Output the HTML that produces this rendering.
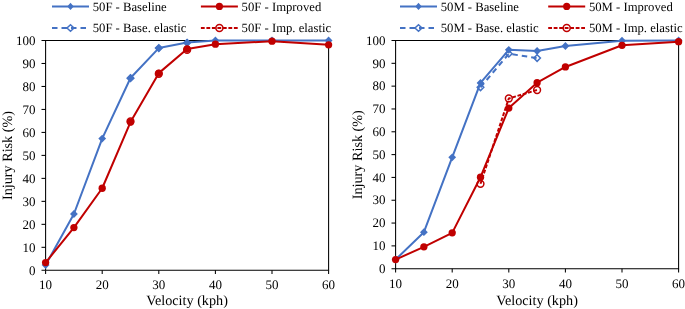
<!DOCTYPE html>
<html><head><meta charset="utf-8"><style>
html,body{margin:0;padding:0;background:#fff;width:685px;height:309px;overflow:hidden;}
svg{display:block;will-change:transform;}
text{font-family:"Liberation Serif",serif;fill:#000;text-rendering:geometricPrecision;}
.tk{font-size:13px;}
.ti{font-size:14.2px;}
.lg{font-size:12.7px;}
</style></head><body>
<svg width="685" height="309" viewBox="0 0 685 309">
<rect width="685" height="309" fill="#fff"/>
<path d="M41.5,40.5H329.1M45.6,40.0V270.8M328.6,40.0V270.8M41.5,270.3H329.1" fill="none" stroke="#000" stroke-width="1.05"/>
<line x1="41.5" y1="247.32" x2="45.6" y2="247.32" stroke="#000" stroke-width="1.05"/>
<line x1="41.5" y1="224.34" x2="45.6" y2="224.34" stroke="#000" stroke-width="1.05"/>
<line x1="41.5" y1="201.36" x2="45.6" y2="201.36" stroke="#000" stroke-width="1.05"/>
<line x1="41.5" y1="178.38" x2="45.6" y2="178.38" stroke="#000" stroke-width="1.05"/>
<line x1="41.5" y1="155.40" x2="45.6" y2="155.40" stroke="#000" stroke-width="1.05"/>
<line x1="41.5" y1="132.42" x2="45.6" y2="132.42" stroke="#000" stroke-width="1.05"/>
<line x1="41.5" y1="109.44" x2="45.6" y2="109.44" stroke="#000" stroke-width="1.05"/>
<line x1="41.5" y1="86.46" x2="45.6" y2="86.46" stroke="#000" stroke-width="1.05"/>
<line x1="41.5" y1="63.48" x2="45.6" y2="63.48" stroke="#000" stroke-width="1.05"/>
<text x="35.4" y="274.50" text-anchor="end" class="tk">0</text>
<text x="35.4" y="251.52" text-anchor="end" class="tk">10</text>
<text x="35.4" y="228.54" text-anchor="end" class="tk">20</text>
<text x="35.4" y="205.56" text-anchor="end" class="tk">30</text>
<text x="35.4" y="182.58" text-anchor="end" class="tk">40</text>
<text x="35.4" y="159.60" text-anchor="end" class="tk">50</text>
<text x="35.4" y="136.62" text-anchor="end" class="tk">60</text>
<text x="35.4" y="113.64" text-anchor="end" class="tk">70</text>
<text x="35.4" y="90.66" text-anchor="end" class="tk">80</text>
<text x="35.4" y="67.68" text-anchor="end" class="tk">90</text>
<text x="35.4" y="44.70" text-anchor="end" class="tk">100</text>
<line x1="45.60" y1="270.3" x2="45.60" y2="274.1" stroke="#000" stroke-width="1.05"/>
<text x="45.60" y="289.40" text-anchor="middle" class="tk">10</text>
<line x1="102.20" y1="270.3" x2="102.20" y2="274.1" stroke="#000" stroke-width="1.05"/>
<text x="102.20" y="289.40" text-anchor="middle" class="tk">20</text>
<line x1="158.80" y1="270.3" x2="158.80" y2="274.1" stroke="#000" stroke-width="1.05"/>
<text x="158.80" y="289.40" text-anchor="middle" class="tk">30</text>
<line x1="215.40" y1="270.3" x2="215.40" y2="274.1" stroke="#000" stroke-width="1.05"/>
<text x="215.40" y="289.40" text-anchor="middle" class="tk">40</text>
<line x1="272.00" y1="270.3" x2="272.00" y2="274.1" stroke="#000" stroke-width="1.05"/>
<text x="272.00" y="289.40" text-anchor="middle" class="tk">50</text>
<line x1="328.60" y1="270.3" x2="328.60" y2="274.1" stroke="#000" stroke-width="1.05"/>
<text x="328.60" y="289.40" text-anchor="middle" class="tk">60</text>
<text x="187.10" y="304.6" text-anchor="middle" class="ti">Velocity (kph)</text>
<text transform="translate(12.00,155.50) rotate(-90)" text-anchor="middle" class="ti">Injury Risk (%)</text>
<polyline points="45.60,265.01 73.90,214.00 102.20,138.62 130.50,77.96 158.80,48.08 187.10,42.57 215.40,40.50 272.00,40.50 328.60,40.50" fill="none" stroke="#4472C4" stroke-width="2" stroke-linejoin="round"/>
<path d="M45.60,261.11L49.50,265.01L45.60,268.91L41.70,265.01Z" fill="#4472C4"/>
<path d="M73.90,210.10L77.80,214.00L73.90,217.90L70.00,214.00Z" fill="#4472C4"/>
<path d="M102.20,134.72L106.10,138.62L102.20,142.52L98.30,138.62Z" fill="#4472C4"/>
<path d="M130.50,74.06L134.40,77.96L130.50,81.86L126.60,77.96Z" fill="#4472C4"/>
<path d="M158.80,44.18L162.70,48.08L158.80,51.98L154.90,48.08Z" fill="#4472C4"/>
<path d="M187.10,38.67L191.00,42.57L187.10,46.47L183.20,42.57Z" fill="#4472C4"/>
<path d="M215.40,36.60L219.30,40.50L215.40,44.40L211.50,40.50Z" fill="#4472C4"/>
<path d="M272.00,36.60L275.90,40.50L272.00,44.40L268.10,40.50Z" fill="#4472C4"/>
<path d="M328.60,36.60L332.50,40.50L328.60,44.40L324.70,40.50Z" fill="#4472C4"/>
<path d="M130.50,74.89L133.80,78.19L130.50,81.49L127.20,78.19Z" fill="none" stroke="#4472C4" stroke-width="1.5"/>
<path d="M158.80,44.78L162.10,48.08L158.80,51.38L155.50,48.08Z" fill="none" stroke="#4472C4" stroke-width="1.5"/>
<path d="M187.10,39.50L190.40,42.80L187.10,46.10L183.80,42.80Z" fill="none" stroke="#4472C4" stroke-width="1.5"/>
<polyline points="45.60,262.60 73.90,227.56 102.20,188.26 130.50,122.08 158.80,73.13 187.10,49.00 215.40,44.18 272.00,41.19 328.60,44.87" fill="none" stroke="#C00000" stroke-width="2" stroke-linejoin="round"/>
<circle cx="45.60" cy="262.60" r="3.65" fill="#C00000"/>
<circle cx="73.90" cy="227.56" r="3.65" fill="#C00000"/>
<circle cx="102.20" cy="188.26" r="3.65" fill="#C00000"/>
<circle cx="130.50" cy="122.08" r="3.65" fill="#C00000"/>
<circle cx="158.80" cy="73.13" r="3.65" fill="#C00000"/>
<circle cx="187.10" cy="49.00" r="3.65" fill="#C00000"/>
<circle cx="215.40" cy="44.18" r="3.65" fill="#C00000"/>
<circle cx="272.00" cy="41.19" r="3.65" fill="#C00000"/>
<circle cx="328.60" cy="44.87" r="3.65" fill="#C00000"/>
<circle cx="130.50" cy="121.39" r="3.4" fill="none" stroke="#C00000" stroke-width="1.5"/>
<circle cx="158.80" cy="73.82" r="3.4" fill="none" stroke="#C00000" stroke-width="1.5"/>
<circle cx="187.10" cy="49.92" r="3.4" fill="none" stroke="#C00000" stroke-width="1.5"/>
<line x1="52" y1="6.4" x2="89" y2="6.4" stroke="#4472C4" stroke-width="2"/>
<path d="M70.5,2.7L73.7,6.4L70.5,10.100000000000001L67.3,6.4Z" fill="#4472C4"/>
<text x="92.7" y="10.7" class="lg">50F - Baseline</text>
<line x1="200.9" y1="6.4" x2="237.9" y2="6.4" stroke="#C00000" stroke-width="2"/>
<circle cx="219.4" cy="6.4" r="3.6" fill="#C00000"/>
<text x="241.60000000000002" y="10.7" class="lg">50F - Improved</text>
<line x1="52" y1="28" x2="89" y2="28" stroke="#4472C4" stroke-width="2" stroke-dasharray="5.5 4"/>
<path d="M70.5,24.8L74.0,28L70.5,31.2L67.0,28Z" fill="none" stroke="#4472C4" stroke-width="1.5"/>
<text x="92.7" y="32.3" class="lg">50F - Base. elastic</text>
<line x1="200.9" y1="27.9" x2="237.9" y2="27.9" stroke="#C00000" stroke-width="2" stroke-dasharray="3.8 1.7"/>
<circle cx="219.4" cy="27.9" r="3.5" fill="none" stroke="#C00000" stroke-width="1.5"/>
<text x="241.60000000000002" y="32.2" class="lg">50F - Imp. elastic</text>
<path d="M391.5,40.5H679.1M395.6,40.0V269.2M678.6,40.0V269.2M391.5,268.7H679.1" fill="none" stroke="#000" stroke-width="1.05"/>
<line x1="391.5" y1="245.88" x2="395.6" y2="245.88" stroke="#000" stroke-width="1.05"/>
<line x1="391.5" y1="223.06" x2="395.6" y2="223.06" stroke="#000" stroke-width="1.05"/>
<line x1="391.5" y1="200.24" x2="395.6" y2="200.24" stroke="#000" stroke-width="1.05"/>
<line x1="391.5" y1="177.42" x2="395.6" y2="177.42" stroke="#000" stroke-width="1.05"/>
<line x1="391.5" y1="154.60" x2="395.6" y2="154.60" stroke="#000" stroke-width="1.05"/>
<line x1="391.5" y1="131.78" x2="395.6" y2="131.78" stroke="#000" stroke-width="1.05"/>
<line x1="391.5" y1="108.96" x2="395.6" y2="108.96" stroke="#000" stroke-width="1.05"/>
<line x1="391.5" y1="86.14" x2="395.6" y2="86.14" stroke="#000" stroke-width="1.05"/>
<line x1="391.5" y1="63.32" x2="395.6" y2="63.32" stroke="#000" stroke-width="1.05"/>
<text x="385.4" y="272.90" text-anchor="end" class="tk">0</text>
<text x="385.4" y="250.08" text-anchor="end" class="tk">10</text>
<text x="385.4" y="227.26" text-anchor="end" class="tk">20</text>
<text x="385.4" y="204.44" text-anchor="end" class="tk">30</text>
<text x="385.4" y="181.62" text-anchor="end" class="tk">40</text>
<text x="385.4" y="158.80" text-anchor="end" class="tk">50</text>
<text x="385.4" y="135.98" text-anchor="end" class="tk">60</text>
<text x="385.4" y="113.16" text-anchor="end" class="tk">70</text>
<text x="385.4" y="90.34" text-anchor="end" class="tk">80</text>
<text x="385.4" y="67.52" text-anchor="end" class="tk">90</text>
<text x="385.4" y="44.70" text-anchor="end" class="tk">100</text>
<line x1="395.60" y1="268.7" x2="395.60" y2="272.5" stroke="#000" stroke-width="1.05"/>
<text x="395.60" y="287.80" text-anchor="middle" class="tk">10</text>
<line x1="452.20" y1="268.7" x2="452.20" y2="272.5" stroke="#000" stroke-width="1.05"/>
<text x="452.20" y="287.80" text-anchor="middle" class="tk">20</text>
<line x1="508.80" y1="268.7" x2="508.80" y2="272.5" stroke="#000" stroke-width="1.05"/>
<text x="508.80" y="287.80" text-anchor="middle" class="tk">30</text>
<line x1="565.40" y1="268.7" x2="565.40" y2="272.5" stroke="#000" stroke-width="1.05"/>
<text x="565.40" y="287.80" text-anchor="middle" class="tk">40</text>
<line x1="622.00" y1="268.7" x2="622.00" y2="272.5" stroke="#000" stroke-width="1.05"/>
<text x="622.00" y="287.80" text-anchor="middle" class="tk">50</text>
<line x1="678.60" y1="268.7" x2="678.60" y2="272.5" stroke="#000" stroke-width="1.05"/>
<text x="678.60" y="287.80" text-anchor="middle" class="tk">60</text>
<text x="537.10" y="304.6" text-anchor="middle" class="ti">Velocity (kph)</text>
<text transform="translate(362.00,154.70) rotate(-90)" text-anchor="middle" class="ti">Injury Risk (%)</text>
<polyline points="395.60,259.57 423.90,232.19 452.20,157.34 480.50,82.95 508.80,49.86 537.10,51.00 565.40,45.98 622.00,40.73 678.60,40.50" fill="none" stroke="#4472C4" stroke-width="2" stroke-linejoin="round"/>
<path d="M395.60,255.67L399.50,259.57L395.60,263.47L391.70,259.57Z" fill="#4472C4"/>
<path d="M423.90,228.29L427.80,232.19L423.90,236.09L420.00,232.19Z" fill="#4472C4"/>
<path d="M452.20,153.44L456.10,157.34L452.20,161.24L448.30,157.34Z" fill="#4472C4"/>
<path d="M480.50,79.05L484.40,82.95L480.50,86.85L476.60,82.95Z" fill="#4472C4"/>
<path d="M508.80,45.96L512.70,49.86L508.80,53.76L504.90,49.86Z" fill="#4472C4"/>
<path d="M537.10,47.10L541.00,51.00L537.10,54.90L533.20,51.00Z" fill="#4472C4"/>
<path d="M565.40,42.08L569.30,45.98L565.40,49.88L561.50,45.98Z" fill="#4472C4"/>
<path d="M622.00,36.83L625.90,40.73L622.00,44.63L618.10,40.73Z" fill="#4472C4"/>
<path d="M678.60,36.60L682.50,40.50L678.60,44.40L674.70,40.50Z" fill="#4472C4"/>
<polyline points="480.50,87.28 508.80,53.74 537.10,58.07" fill="none" stroke="#4472C4" stroke-width="2" stroke-linejoin="round" stroke-dasharray="5.5 4"/>
<path d="M480.50,83.98L483.80,87.28L480.50,90.58L477.20,87.28Z" fill="none" stroke="#4472C4" stroke-width="1.5"/>
<path d="M508.80,50.44L512.10,53.74L508.80,57.04L505.50,53.74Z" fill="none" stroke="#4472C4" stroke-width="1.5"/>
<path d="M537.10,54.77L540.40,58.07L537.10,61.37L533.80,58.07Z" fill="none" stroke="#4472C4" stroke-width="1.5"/>
<polyline points="395.60,259.57 423.90,246.79 452.20,232.87 480.50,177.19 508.80,108.05 537.10,82.72 565.40,66.97 622.00,45.29 678.60,41.64" fill="none" stroke="#C00000" stroke-width="2" stroke-linejoin="round"/>
<circle cx="395.60" cy="259.57" r="3.65" fill="#C00000"/>
<circle cx="423.90" cy="246.79" r="3.65" fill="#C00000"/>
<circle cx="452.20" cy="232.87" r="3.65" fill="#C00000"/>
<circle cx="480.50" cy="177.19" r="3.65" fill="#C00000"/>
<circle cx="508.80" cy="108.05" r="3.65" fill="#C00000"/>
<circle cx="537.10" cy="82.72" r="3.65" fill="#C00000"/>
<circle cx="565.40" cy="66.97" r="3.65" fill="#C00000"/>
<circle cx="622.00" cy="45.29" r="3.65" fill="#C00000"/>
<circle cx="678.60" cy="41.64" r="3.65" fill="#C00000"/>
<polyline points="480.50,183.81 508.80,98.46 537.10,90.02" fill="none" stroke="#C00000" stroke-width="2" stroke-linejoin="round" stroke-dasharray="3.8 1.7"/>
<circle cx="480.50" cy="183.81" r="3.4" fill="none" stroke="#C00000" stroke-width="1.5"/>
<circle cx="508.80" cy="98.46" r="3.4" fill="none" stroke="#C00000" stroke-width="1.5"/>
<circle cx="537.10" cy="90.02" r="3.4" fill="none" stroke="#C00000" stroke-width="1.5"/>
<line x1="400" y1="6.4" x2="437" y2="6.4" stroke="#4472C4" stroke-width="2"/>
<path d="M418.5,2.7L421.7,6.4L418.5,10.100000000000001L415.3,6.4Z" fill="#4472C4"/>
<text x="440.7" y="10.7" class="lg">50M - Baseline</text>
<line x1="548.2" y1="6.4" x2="585.2" y2="6.4" stroke="#C00000" stroke-width="2"/>
<circle cx="566.7" cy="6.4" r="3.6" fill="#C00000"/>
<text x="588.9000000000001" y="10.7" class="lg">50M - Improved</text>
<line x1="400" y1="28" x2="437" y2="28" stroke="#4472C4" stroke-width="2" stroke-dasharray="5.5 4"/>
<path d="M418.5,24.8L422.0,28L418.5,31.2L415.0,28Z" fill="none" stroke="#4472C4" stroke-width="1.5"/>
<text x="440.7" y="32.3" class="lg">50M - Base. elastic</text>
<line x1="548.2" y1="27.9" x2="585.2" y2="27.9" stroke="#C00000" stroke-width="2" stroke-dasharray="3.8 1.7"/>
<circle cx="566.7" cy="27.9" r="3.5" fill="none" stroke="#C00000" stroke-width="1.5"/>
<text x="588.9000000000001" y="32.2" class="lg">50M - Imp. elastic</text>
</svg>
</body></html>
